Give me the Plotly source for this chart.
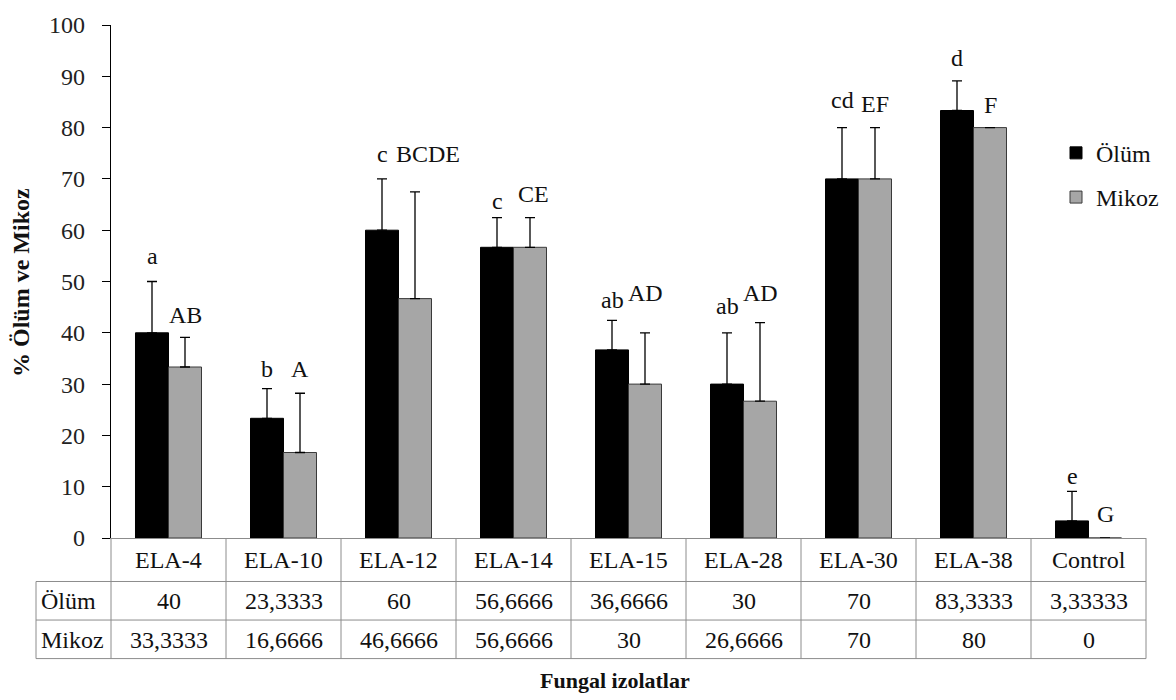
import plotly.graph_objects as go

categories = ["ELA-4", "ELA-10", "ELA-12", "ELA-14", "ELA-15", "ELA-28", "ELA-30", "ELA-38", "Control"]
olum = [40, 23.3333, 60, 56.6666, 36.6666, 30, 70, 83.3333, 3.33333]
mikoz = [33.3333, 16.6666, 46.6666, 56.6666, 30, 26.6666, 70, 80, 0]
olum_err = [10, 5.77, 10, 5.77, 5.77, 10, 10, 5.77, 5.77]
mikoz_err = [5.77, 11.55, 20.8, 5.77, 10, 15.3, 10, None, None]
olum_letters = ["a", "b", "c", "c", "ab", "ab", "cd", "d", "e"]
mikoz_letters = ["AB", "A", "BCDE", "CE", "AD", "AD", "EF", "F", "G"]
olum_letter_y = [54.9, 33, 74.8, 65.7, 46.4, 45.3, 85.4, 93.6, 12.1]
mikoz_letter_y = [43.5, 33, 74.8, 67, 47.8, 47.8, 84.6, 84.4, 4.6]
mikoz_letter_dx = [0, 0, 13, 3, 0, 0, 0, 0, 0]

FONT = "Liberation Serif"
TXT = "#111"
FS = 24
xs = list(range(len(categories)))

W, H = 1176, 700

fig = go.Figure()
fig.add_trace(go.Bar(
    x=xs, y=olum, name="Ölüm", legendgroup="o",
    marker=dict(color="#000000", line=dict(color="#000000", width=1)),
    error_y=dict(type="data", symmetric=False, array=olum_err,
                 arrayminus=[0] * len(olum), color="#000000", thickness=1.3, width=5),
))
fig.add_trace(go.Bar(
    x=xs, y=mikoz, name="Mikoz", legendgroup="m",
    marker=dict(color="#a6a6a6", line=dict(color="#3a3a3a", width=1)),
    error_y=dict(type="data", symmetric=False, array=mikoz_err,
                 arrayminus=[0] * len(mikoz), color="#000000", thickness=1.3, width=5),
))

# plot area in target-screenshot pixels
L, R, T, B = 111, 1146, 19, 538
PW, PH = R - L, B - T


def py(p):
    return (B - p) / PH


def px(p):
    return (p - L) / PW


ann = []
bar_off = 0.1435  # half bar width in category units
for i in xs:
    ann.append(dict(x=i - bar_off, y=olum_letter_y[i], xref="x", yref="y", text=olum_letters[i],
                    showarrow=False, font=dict(family=FONT, size=FS, color=TXT)))
    ann.append(dict(x=i + bar_off, y=mikoz_letter_y[i], xref="x", yref="y", text=mikoz_letters[i],
                    xshift=mikoz_letter_dx[i],
                    showarrow=False, font=dict(family=FONT, size=FS, color=TXT)))

# table (paper coordinates)
row_lines = [538, 582, 621, 660]
row_centers = [560, 602, 641]
col_w = PW / len(categories)
label_left = 36
shapes = []
gray = "#8c8c8c"
for r in row_lines[1:]:
    shapes.append(dict(type="line", xref="paper", yref="paper", x0=px(label_left), x1=1, y0=py(r), y1=py(r),
                       line=dict(color=gray, width=1)))
for k in range(len(categories) + 1):
    xp = px(L + k * col_w)
    shapes.append(dict(type="line", xref="paper", yref="paper", x0=xp, x1=xp,
                       y0=py(row_lines[0]), y1=py(row_lines[3]), line=dict(color=gray, width=1)))
shapes.append(dict(type="line", xref="paper", yref="paper", x0=px(label_left), x1=px(label_left),
                   y0=py(row_lines[1]), y1=py(row_lines[3]), line=dict(color=gray, width=1)))


def fmt(v):
    return f"{v:g}".replace(".", ",")


for i, c in enumerate(categories):
    xc = px(L + (i + 0.5) * col_w)
    for txt, rc in ((c, row_centers[0]), (fmt(olum[i]), row_centers[1]), (fmt(mikoz[i]), row_centers[2])):
        ann.append(dict(x=xc, y=py(rc), xref="paper", yref="paper", text=txt, showarrow=False,
                        xanchor="center", yanchor="middle", font=dict(family=FONT, size=FS, color=TXT)))
for txt, rc in (("Ölüm", row_centers[1]), ("Mikoz", row_centers[2])):
    ann.append(dict(x=px(label_left + 3), y=py(rc), xref="paper", yref="paper", text=txt,
                    xanchor="left", yanchor="middle", showarrow=False,
                    font=dict(family=FONT, size=FS, color=TXT)))

ann.append(dict(x=px(615), y=py(682), xref="paper", yref="paper", text="<b>Fungal izolatlar</b>",
                xanchor="center", yanchor="middle",
                showarrow=False, font=dict(family=FONT, size=22, color=TXT)))
ann.append(dict(x=px(21), y=py(280), xref="paper", yref="paper", text="<b>% Ölüm ve Mikoz</b>",
                xanchor="center", yanchor="middle",
                textangle=-90, showarrow=False, font=dict(family=FONT, size=24, color=TXT)))

fig.update_layout(
    width=W, height=H,
    margin=dict(l=L, r=W - R, t=T, b=H - B, pad=0),
    paper_bgcolor="white", plot_bgcolor="white",
    barmode="group", bargap=0.426, bargroupgap=0,
    font=dict(family=FONT, size=FS, color=TXT),
    showlegend=True,
    legend=dict(x=px(1056), y=py(126), xanchor="left", yanchor="top",
                font=dict(family=FONT, size=FS, color=TXT), bgcolor="rgba(0,0,0,0)",
                tracegroupgap=10, itemwidth=30),
    annotations=ann, shapes=shapes,
)
fig.update_xaxes(range=[-0.5, 8.5], showticklabels=False, ticks="", showgrid=False, zeroline=False,
                 showline=True, linecolor=gray, linewidth=1)
fig.update_yaxes(range=[0, 100], dtick=10, showgrid=False, zeroline=False, showline=True,
                 linecolor="#000", linewidth=1.3, ticks="outside", ticklen=8, tickcolor="#000",
                 ticklabelstandoff=12,
                 tickfont=dict(family=FONT, size=FS, color="#222"))

# remove the browser's default page margin so the figure sits at the window origin
fig.write_html("out.html", config={"displayModeBar": False},
               post_script="document.body.style.margin='0';document.body.style.overflow='hidden';")
